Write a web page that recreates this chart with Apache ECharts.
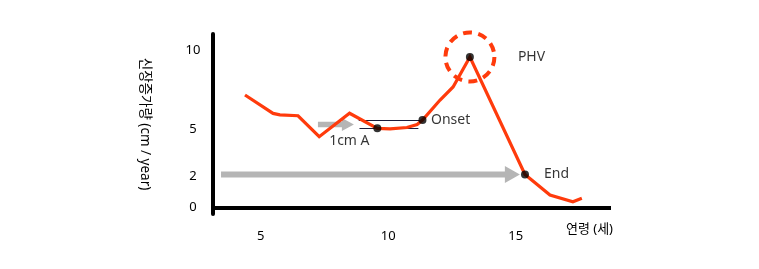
<!DOCTYPE html>
<html>
<head>
<meta charset="utf-8">
<script src="https://cdn.jsdelivr.net/npm/echarts@6/dist/echarts.min.js"></script>
<style>
html,body{margin:0;padding:0;background:#fff;}
#chart{width:759px;height:269px;}
</style>
</head>
<body>
<div id="chart"></div>
<script>
// ---- data ----
const ages   = [4.38, 5.48, 5.75, 6.46, 7.29, 8.48, 9.57, 10.07, 10.73, 11.13, 11.34, 12.03, 12.54, 13.20, 15.36, 16.34, 17.24, 17.59];
const growth = [7.17, 6.00, 5.91, 5.85, 4.52, 6.01, 5.05, 5.01, 5.10, 5.29, 5.58, 6.85, 7.68, 9.59, 2.12, 0.81, 0.38, 0.60];

const keyNames = ['1cm A', 'Onset', 'PHV', 'End'];
const keyAges  = [9.57, 11.34, 13.20, 15.36];
const keyVals  = [5.05, 5.58, 9.59, 2.12];

// arrows: [startAge, endAge, level]
const arrowSmall = [7.24, 8.65, 5.29];
const arrowLong  = [3.44, 15.16, 2.12];

// onset bracket lines: [startAge, endAge, level]
const bracketTop    = [8.84, 11.32, 5.60];
const bracketBottom = [8.87, 11.18, 5.07];

const xTicks = [5, 10, 15];
const yTicks = [0, 2, 5, 10];

const xName = '연령 (세)';
const yName = '신장증가량 (cm / year)';

// ---- chart ----
const FONT = "'Noto Sans', 'Noto Sans CJK KR', sans-serif";
const RED = '#ff3b0c';
const GRAY = '#b5b5b5';
const TXT = '#000';

const chart = echarts.init(document.getElementById('chart'));

function arrowRender(shaftHalf, headLen, headHalf) {
  return function (params, api) {
    const p0 = api.coord([api.value(0), api.value(2)]);
    const p1 = api.coord([api.value(1), api.value(2)]);
    const y = p0[1];
    const x0 = p0[0], tip = p1[0], hb = tip - headLen;
    return {
      type: 'polygon',
      shape: { points: [
        [x0, y - shaftHalf], [hb, y - shaftHalf], [hb, y - headHalf], [tip, y],
        [hb, y + headHalf], [hb, y + shaftHalf], [x0, y + shaftHalf]
      ]},
      style: { fill: GRAY }
    };
  };
}

function segRender(params, api) {
  const p0 = api.coord([api.value(0), api.value(2)]);
  const p1 = api.coord([api.value(1), api.value(2)]);
  const y = Math.round(p0[1]) + 0.5;
  return {
    type: 'line',
    shape: { x1: p0[0], y1: y, x2: p1[0], y2: y },
    style: { stroke: '#1c1c3a', lineWidth: 1 }
  };
}

const labelCfgs = [
  { show: true, position: 'inside', offset: [-28, 13] },
  { show: true, position: 'right', distance: 4.5 },
  { show: true, position: 'right', distance: 44 },
  { show: true, position: 'right', distance: 15 }
];

const option = {
  animation: false,
  backgroundColor: '#fff',
  grid: { left: 213, right: 150, top: 34, bottom: 55 },
  xAxis: {
    type: 'value',
    min: 3.125, max: 18.655,
    name: xName,
    nameLocation: 'end',
    nameGap: 4,
    nameTextStyle: { fontFamily: FONT, fontSize: 13, color: TXT, align: 'right', verticalAlign: 'top', padding: [15, 0, 0, 0] },
    axisLine: { show: true, lineStyle: { color: '#000', width: 4, cap: 'square' } },
    axisTick: { show: false },
    splitLine: { show: false },
    axisLabel: { customValues: xTicks, margin: 16, fontFamily: FONT, fontSize: 13, color: TXT }
  },
  yAxis: {
    type: 'value',
    min: -0.4, max: 11.05,
    name: yName,
    nameLocation: 'middle',
    nameGap: 61,
    nameRotate: -90,
    nameTextStyle: { fontFamily: FONT, fontSize: 13.5, color: TXT },
    axisLine: { show: true, lineStyle: { color: '#000', width: 4 } },
    axisTick: { show: false },
    splitLine: { show: false },
    axisLabel: { customValues: yTicks, margin: 20, align: 'center', fontFamily: FONT, fontSize: 13, color: TXT }
  },
  series: [
    {
      type: 'custom', z: 1,
      renderItem: segRender,
      data: [bracketTop, bracketBottom]
    },
    {
      type: 'custom', z: 1,
      renderItem: arrowRender(2.8, 12, 6.5),
      data: [arrowSmall]
    },
    {
      type: 'custom', z: 1,
      renderItem: arrowRender(3, 15, 8.5),
      data: [arrowLong]
    },
    {
      type: 'line', z: 2,
      data: ages.map((a, i) => [a, growth[i]]),
      showSymbol: false,
      lineStyle: { color: RED, width: 3.2, join: 'miter' }
    },
    {
      type: 'custom', z: 3,
      renderItem: function (params, api) {
        const c = api.coord([api.value(0), api.value(1)]);
        return {
          type: 'circle',
          shape: { cx: c[0], cy: c[1], r: 24.5 },
          style: { fill: null, stroke: RED, lineWidth: 4, lineDash: [9, 6.4] }
        };
      },
      data: [[keyAges[2], keyVals[2]]]
    },
    {
      type: 'scatter', z: 4,
      symbol: 'circle', symbolSize: 8,
      itemStyle: { color: '#000' },
      label: { fontFamily: FONT, fontSize: 14, color: TXT },
      data: keyAges.map((a, i) => ({
        value: [a, keyVals[i]],
        name: keyNames[i],
        label: Object.assign({ formatter: keyNames[i], fontFamily: FONT, fontSize: 14, color: TXT }, labelCfgs[i])
      }))
    }
  ]
};
chart.setOption(option);
</script>
</body>
</html>
